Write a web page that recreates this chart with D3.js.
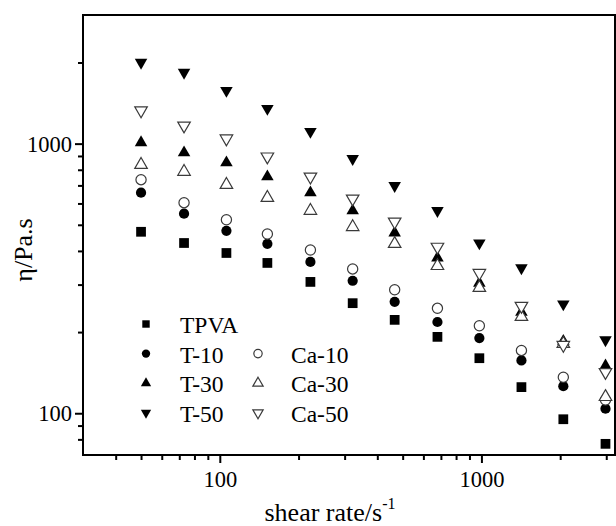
<!DOCTYPE html>
<html>
<head>
<meta charset="utf-8">
<script src="https://cdn.jsdelivr.net/npm/d3@7"></script>
<style>
  body { margin: 0; background: #fff; }
  svg text { font-family: "Liberation Serif", "Times New Roman", serif; fill: #000; }
</style>
</head>
<body>
<svg id="chart" width="616" height="526"></svg>
<script>
// shear rate (1/s)
const shearRate = [50, 73, 106, 152, 222, 322, 466, 679, 982, 1422, 2056, 2980];

// viscosity (Pa.s) per sample
const tpva = [471, 428, 393, 361, 307, 256, 222, 192, 160, 125, 95, 77];
const t10  = [658, 550, 475, 425, 364, 310, 259, 218, 190, 157, 126, 104];
const ca10 = [735, 604, 522, 462, 403, 343, 287, 245, 211, 171, 136, 112];
const t30  = [1009, 926, 850, 754, 658, 564, 467, 377, 304, 237, 185, 150];
const ca30 = [835, 787, 704, 630, 564, 491, 425, 352, 292, 228, 181, 115];
const t50  = [2000, 1837, 1574, 1350, 1109, 879, 698, 564, 428, 346, 254, 187];
const ca50 = [1327, 1166, 1044, 895, 754, 625, 513, 414, 331, 250, 179, 142];

const xMajor = [100, 1000];
const xMinor = [40, 50, 60, 70, 80, 90, 200, 300, 400, 500, 600, 700, 800, 900, 2000, 3000];
const yMajor = [100, 1000];
const yMinor = [80, 90, 200, 300, 400, 500, 600, 700, 800, 900, 2000];

const series = [
  { name: "TPVA",  values: tpva, shape: "square",   filled: true },
  { name: "T-10",  values: t10,  shape: "circle",   filled: true },
  { name: "Ca-10", values: ca10, shape: "circle",   filled: false },
  { name: "T-30",  values: t30,  shape: "triUp",    filled: true },
  { name: "Ca-30", values: ca30, shape: "triUp",    filled: false },
  { name: "T-50",  values: t50,  shape: "triDown",  filled: true },
  { name: "Ca-50", values: ca50, shape: "triDown",  filled: false }
];

const svg = d3.select("#chart");
const plotLeft = 83, plotRight = 615, plotTop = 15, plotBottom = 455;

const x = d3.scaleLog().domain([30, 3240]).range([plotLeft, plotRight]);
const y = d3.scaleLog().domain([70, 3000]).range([plotBottom, plotTop]);

function symbolPath(shape, big) {
  if (shape === "square") return d3.symbol(d3.symbolSquare, big ? 95 : 55)();
  if (shape === "circle") return d3.symbol(d3.symbolCircle, big ? 82 : 55)();
  return d3.symbol(d3.symbolTriangle, big ? 68 : 46)();
}
function place(shape, px, py) {
  return shape === "triDown" ? `translate(${px},${py}) rotate(180)` : `translate(${px},${py})`;
}
function styleMark(sel, s) {
  sel.attr("fill", s.filled ? "#000" : "#fff")
     .attr("stroke", s.filled ? "none" : "#3a3a3a")
     .attr("stroke-width", 1.2);
}

// axes
const xAxis = svg.append("g").attr("transform", `translate(0,${plotBottom})`);
xAxis.call(d3.axisBottom(x).tickValues(xMajor).tickSize(8).tickFormat(d3.format("d")));
const xAxisMinor = svg.append("g").attr("transform", `translate(0,${plotBottom})`);
xAxisMinor.call(d3.axisBottom(x).tickValues(xMinor).tickSize(5).tickFormat(""));

const yAxis = svg.append("g").attr("transform", `translate(${plotLeft},0)`);
yAxis.call(d3.axisLeft(y).tickValues(yMajor).tickSize(8).tickFormat(d3.format("d")));
const yAxisMinor = svg.append("g").attr("transform", `translate(${plotLeft},0)`);
yAxisMinor.call(d3.axisLeft(y).tickValues(yMinor).tickSize(5).tickFormat(""));

svg.selectAll(".domain").remove();
svg.selectAll(".tick line").attr("stroke", "#000").attr("stroke-width", 2);
xAxis.selectAll(".tick text").attr("font-size", 22.5).attr("y", 32).attr("dy", 0);
yAxis.selectAll(".tick text").attr("font-size", 22.5).attr("x", -11).attr("dy", "0.34em");

// frame
svg.append("rect")
  .attr("x", plotLeft).attr("y", plotTop)
  .attr("width", plotRight - plotLeft).attr("height", plotBottom - plotTop)
  .attr("fill", "none").attr("stroke", "#000").attr("stroke-width", 2);

// data points
series.forEach(s => {
  svg.append("g").selectAll("path")
    .data(s.values)
    .enter()
    .append("path")
    .attr("d", symbolPath(s.shape, true))
    .attr("transform", (d, i) => place(s.shape, x(shearRate[i]), y(d)))
    .call(sel => styleMark(sel, s));
});

// legend
const legendRows = [
  [series[0]],
  [series[1], series[2]],
  [series[3], series[4]],
  [series[5], series[6]]
];
const lg = svg.append("g");
legendRows.forEach((row, r) => {
  const ly = 324 + r * 29.6;
  row.forEach((s, c) => {
    const sx = c === 0 ? 146 : 258;
    const tx = c === 0 ? 180 : 291;
    lg.append("path")
      .attr("d", symbolPath(s.shape, false))
      .attr("transform", place(s.shape, sx, ly))
      .call(sel => styleMark(sel, s));
    lg.append("text")
      .attr("x", tx).attr("y", ly + 9)
      .attr("font-size", 23.5)
      .text(s.name);
  });
});

// axis titles
const xt = svg.append("text")
  .attr("x", 330).attr("y", 521)
  .attr("text-anchor", "middle")
  .attr("font-size", 26);
xt.append("tspan").text("shear rate/s");
xt.append("tspan").attr("dy", -12).attr("font-size", 16).text("-1");

svg.append("text")
  .attr("transform", "translate(32,250) rotate(-90)")
  .attr("text-anchor", "middle")
  .attr("font-size", 26)
  .text("η/Pa.s");
</script>
</body>
</html>
